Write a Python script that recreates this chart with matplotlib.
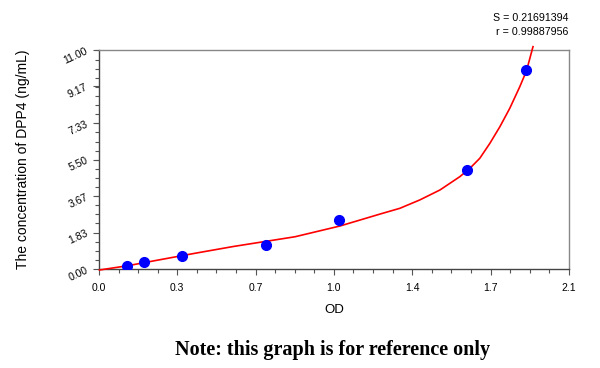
import numpy as np
import matplotlib
matplotlib.use("Agg")
import matplotlib.pyplot as plt
from matplotlib.ticker import AutoMinorLocator

# Standard points (OD vs concentration)
od = [0.125, 0.203, 0.371, 0.745, 1.072, 1.646, 1.909]
conc = [0.15, 0.34, 0.64, 1.22, 2.48, 4.99, 9.98]

# Fitted curve
fit_od = [0.002, 0.131, 0.25, 0.429, 0.60, 0.876, 1.077, 1.256, 1.345, 1.434,
          1.524, 1.613, 1.658, 1.702, 1.747, 1.792, 1.836, 1.881, 1.911, 1.940]
fit_conc = [-0.05, 0.17, 0.42, 0.79, 1.13, 1.62, 2.16, 2.76, 3.05, 3.47,
            3.97, 4.64, 5.06, 5.56, 6.31, 7.15, 8.07, 9.16, 9.96, 11.17]

xticks = [0, 0.35, 0.7, 1.05, 1.4, 1.75, 2.1]
xticklabels = ["0.0", "0.3", "0.7", "1.0", "1.4", "1.7", "2.1"]
yticks = [0, 1.83, 3.67, 5.5, 7.33, 9.17, 11]
yticklabels = ["0.00", "1.83", "3.67", "5.50", "7.33", "9.17", "11.00"]

plt.rcParams['font.family'] = ['Liberation Sans', 'DejaVu Sans']

fig = plt.figure(figsize=(6, 3.68), dpi=100)
ax = fig.add_axes([0.165, 0.269, 0.783, 0.595])

ax.plot(fit_od, fit_conc, color='red', lw=1.2, clip_on=False, zorder=3,
        solid_joinstyle='round')
ax.plot(od, conc, 'o', color='blue', ms=7, mec='blue', zorder=4)

ax.set_xlim(0, 2.1)
ax.set_ylim(0, 11)
ax.set_xticks(xticks)
ax.set_xticklabels(xticklabels, fontsize=7.5)
ax.set_yticks(yticks)
ax.set_yticklabels(yticklabels, fontsize=7.5, rotation=25)
ax.xaxis.set_minor_locator(AutoMinorLocator(4))
ax.yaxis.set_minor_locator(AutoMinorLocator(4))
ax.tick_params(which='both', direction='out', color='#555555', width=0.8)
ax.tick_params(which='major', length=4)
ax.tick_params(which='minor', length=3)
ax.tick_params(axis='x', which='major', pad=6)
ax.tick_params(axis='y', which='major', pad=3)

for side in ['top', 'right']:
    ax.spines[side].set_color('#888888')
for side in ['left', 'bottom']:
    ax.spines[side].set_color('#444444')
for sp in ax.spines.values():
    sp.set_linewidth(1.0)

ax.set_xlabel("OD", fontsize=9.5)
ax.xaxis.set_label_coords(0.5, -0.16)
ax.set_ylabel("The concentration of DPP4 (ng/mL)", fontsize=10)
ax.yaxis.set_label_coords(-0.147, 0.5)

fig.text(0.948, 0.95, "S = 0.21691394", ha='right', va='center', fontsize=7.7)
fig.text(0.948, 0.912, "r = 0.99887956", ha='right', va='center', fontsize=7.7)

fig.text(0.555, 0.049, "Note: this graph is for reference only", ha='center',
         va='center', fontsize=14.5, fontweight='bold',
         family=['Liberation Serif', 'DejaVu Serif'])

fig.savefig("out.png", dpi=100)
